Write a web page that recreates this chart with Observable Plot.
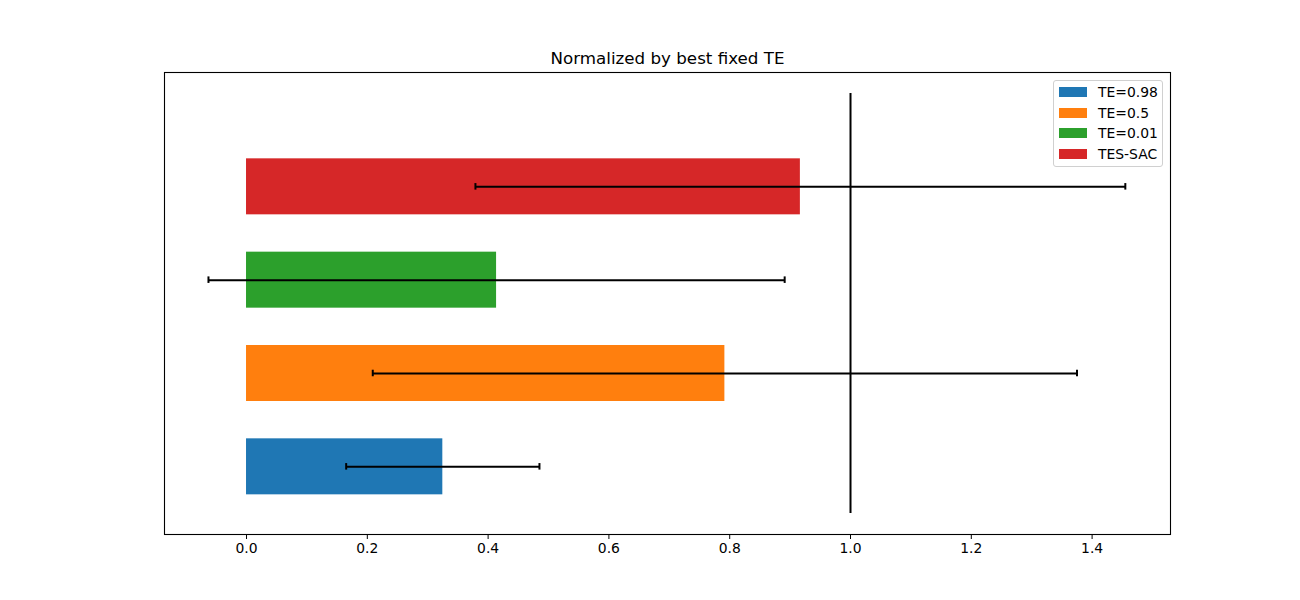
<!DOCTYPE html>
<html>
<head>
<meta charset="utf-8">
<script src="https://cdn.jsdelivr.net/npm/d3@7"></script>
<script src="https://cdn.jsdelivr.net/npm/@observablehq/plot@0.6"></script>
<style>
  html, body { margin: 0; padding: 0; background: #fff; }
  #wrap { position: relative; width: 1300px; height: 600px; font-family: "DejaVu Sans", sans-serif; }
  #legend { position: absolute; left: 1053px; top: 80px; width: 110px; height: 87px;
    border: 1px solid #d0d0d0; border-radius: 3px; background: rgba(255,255,255,0.8); box-sizing: border-box; }
  .row { position: absolute; left: 5px; height: 14px; display: flex; align-items: center; font-size: 13.9px; color: #000; }
  .sw { width: 28px; height: 10px; margin-right: 11px; }
</style>
</head>
<body>
<div id="wrap"><div id="legend"></div></div>
<script>
const title = "Normalized by best fixed TE";
const labels = ["TE=0.98", "TE=0.5", "TE=0.01", "TES-SAC"];
const means = [0.325, 0.792, 0.414, 0.917];
const errs = [0.160, 0.583, 0.477, 0.538];
const colors = ["#1f77b4", "#ff7f0e", "#2ca02c", "#d62728"];
const xTicks = [0, 0.2, 0.4, 0.6, 0.8, 1.0, 1.2, 1.4];
const refValue = 1.0;

const data = labels.map((l, i) => ({label: l, i, v: means[i], e: errs[i], c: colors[i]}));
const halfBar = 0.3, cap = 0.035;

const chart = Plot.plot({
  width: 1300,
  height: 600,
  marginLeft: 164,
  marginRight: 130,
  marginTop: 72,
  marginBottom: 66,
  style: {fontFamily: "DejaVu Sans, sans-serif", background: "transparent", overflow: "visible"},
  x: {type: "linear", domain: [-0.1358, 1.5298]},
  y: {type: "linear", domain: [-0.725, 4.225], axis: null},
  marks: [
    Plot.rect(data, {x1: 0, x2: d => d.v, y1: d => d.i - halfBar, y2: d => d.i + halfBar, fill: d => d.c}),
    Plot.link(data, {x1: d => d.v - d.e, x2: d => d.v + d.e, y1: d => d.i, y2: d => d.i, stroke: "black", strokeWidth: 2}),
    Plot.ruleX(data, {x: d => d.v - d.e, y1: d => d.i - cap, y2: d => d.i + cap, stroke: "black", strokeWidth: 2}),
    Plot.ruleX(data, {x: d => d.v + d.e, y1: d => d.i - cap, y2: d => d.i + cap, stroke: "black", strokeWidth: 2}),
    Plot.ruleX([refValue], {x: d => d, y1: -0.5, y2: 4, stroke: "black", strokeWidth: 2}),
    Plot.frame({stroke: "black", strokeWidth: 1.1}),
    Plot.axisX({ticks: xTicks, tickSize: 5, tickPadding: 4, tickFormat: d3.format(".1f"), label: null, fontSize: "13.9px", fill: "black"}),
    Plot.text([title], {text: d => d, frameAnchor: "top", dy: -14, lineAnchor: "middle", fontSize: "16.7px", fill: "black"})
  ]
});
chart.style.position = "absolute";
chart.style.left = "0px";
chart.style.top = "0px";
const wrap = document.getElementById("wrap");
wrap.insertBefore(chart, wrap.firstChild);

const legend = document.getElementById("legend");
labels.forEach((l, i) => {
  const row = document.createElement("div");
  row.className = "row";
  row.style.top = (4 + i * 20.7) + "px";
  const sw = document.createElement("div");
  sw.className = "sw";
  sw.style.background = colors[i];
  const t = document.createElement("span");
  t.textContent = l;
  row.appendChild(sw);
  row.appendChild(t);
  legend.appendChild(row);
});
</script>
</body>
</html>
